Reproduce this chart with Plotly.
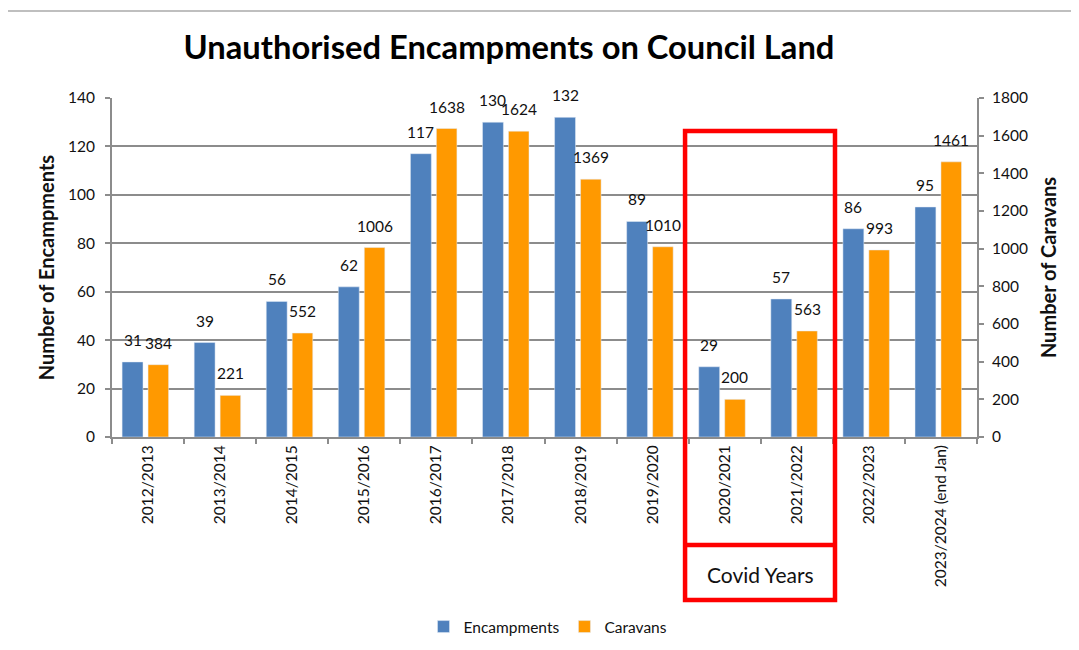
import plotly.graph_objects as go

categories = ["2012/2013", "2013/2014", "2014/2015", "2015/2016", "2016/2017", "2017/2018",
              "2018/2019", "2019/2020", "2020/2021", "2021/2022", "2022/2023", "2023/2024 (end Jan)"]
encampments = [31, 39, 56, 62, 117, 130, 132, 89, 29, 57, 86, 95]
caravans = [384, 221, 552, 1006, 1638, 1624, 1369, 1010, 200, 563, 993, 1461]

FONT = "Lato, 'Noto Sans', sans-serif"
BLUE = "#4F81BD"
ORANGE = "#FF9900"
GRID = "#8C8C8C"

# page is offset by the 8px body margin
OFF = 8
FW, FH = 1079 - OFF, 650 - OFF
PL, PR, PT, PB = 112, 977, 98, 437  # plot area in page pixels
L, R, T, B = PL - OFF, 1079 - PR, PT - OFF, 650 - PB
H = PB - PT
W = PR - PL

def py(p):
    return (PB - p) / H

def px(p):
    return (p - PL) / W

B_OFF, B_W = -0.36, 0.29
O_OFF, O_W = 0.0, 0.285

fig = go.Figure()
fig.add_trace(go.Bar(x=categories, y=encampments, name="Encampments", marker_color=BLUE,
                     offset=B_OFF, width=B_W, yaxis="y"))
fig.add_trace(go.Bar(x=categories, y=caravans, name="Caravans", marker_color=ORANGE,
                     offset=O_OFF, width=O_W, yaxis="y2"))

for i, v in enumerate(encampments):
    fig.add_annotation(x=i + B_OFF + B_W / 2, xref="x", y=v, yref="y", text=str(v),
                       showarrow=False, yanchor="bottom", yshift=11,
                       font=dict(size=15.5, color="#111", family=FONT))
for i, v in enumerate(caravans):
    fig.add_annotation(x=i + O_OFF + O_W / 2, xref="x", y=v, yref="y2", text=str(v),
                       showarrow=False, yanchor="bottom", yshift=11,
                       font=dict(size=15.5, color="#111", family=FONT))

# red Covid box
fig.add_shape(type="rect", xref="x", yref="paper", x0=7.45, x1=9.53, y0=py(600), y1=py(131),
              line=dict(color="#FF0000", width=4.5), fillcolor="rgba(0,0,0,0)", layer="above")
fig.add_shape(type="line", xref="x", yref="paper", x0=7.45, x1=9.53, y0=py(545), y1=py(545),
              line=dict(color="#FF0000", width=4.5))
fig.add_annotation(x=8.5, xref="x", y=py(574), yref="paper", yanchor="middle", xanchor="center",
                   text="Covid Years", showarrow=False,
                   font=dict(size=21, color="#111", family=FONT))

# outer chart border
fig.add_shape(type="rect", xref="paper", yref="paper",
              x0=px(4), x1=px(1200), y0=py(800), y1=py(11),
              line=dict(color="#BFBFBF", width=2), layer="below")

fig.update_layout(
    width=FW, height=FH,
    margin=dict(l=L, r=R, t=T, b=B, autoexpand=False),
    paper_bgcolor="white", plot_bgcolor="white",
    font=dict(family=FONT, size=15.5, color="#111"),
    title=dict(text="<b>Unauthorised Encampments on Council Land</b>",
               x=(509 - OFF) / FW, xanchor="center",
               y=1 - (48 - OFF) / FH, yanchor="middle",
               font=dict(size=32.7, color="#000", family=FONT), automargin=False),
    barmode="overlay",
    showlegend=True,
    legend=dict(orientation="h", x=px(548), xanchor="center", y=py(627), yanchor="middle",
                font=dict(size=15.5, color="#111"), itemwidth=30, tracegroupgap=0),
    xaxis=dict(type="category", tickangle=-90, ticks="outside", tickson="boundaries",
               ticklen=5, tickcolor=GRID, tickwidth=2, showline=True, linecolor=GRID, linewidth=2,
               showgrid=False, tickfont=dict(size=15.5), range=[-0.5, 11.5], automargin=False),
    yaxis=dict(range=[0, 140], dtick=20, showgrid=True, gridcolor=GRID, gridwidth=2,
               showline=True, linecolor=GRID, linewidth=2, ticks="outside", ticklen=5,
               tickcolor=GRID, tickwidth=2, zeroline=False, tickfont=dict(size=15.5),
               ticklabelstandoff=7, automargin=False,
               title=dict(text="<b>Number of Encampments</b>", font=dict(size=20), standoff=8)),
    yaxis2=dict(range=[0, 1800], dtick=200, overlaying="y", side="right", showgrid=False,
                showline=True, linecolor=GRID, linewidth=2, ticks="outside", ticklen=5,
                tickcolor=GRID, tickwidth=2, zeroline=False, tickfont=dict(size=15.5),
                ticklabelstandoff=5, automargin=False,
                title=dict(text="<b>Number of Caravans</b>", font=dict(size=20), standoff=15)),
)

fig.write_html("out.html")
